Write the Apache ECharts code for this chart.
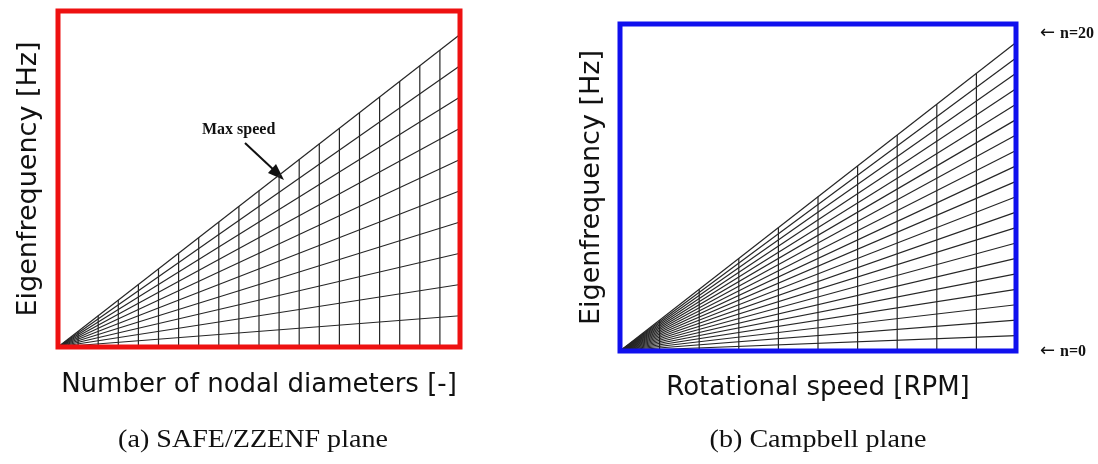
<!DOCTYPE html>
<html>
<head>
<meta charset="utf-8">
<script src="https://cdn.jsdelivr.net/npm/echarts@6/dist/echarts.min.js"></script>
<style>
  html, body { margin: 0; padding: 0; background: #fff; }
  #chart { width: 1098px; height: 464px; }
</style>
</head>
<body>
<div id="chart"></div>
<script>
// SAFE/ZZENF plane: nodal diameters on x, constant-speed lines fanning out of the origin
const ndMax = 20;
const ndTicks = [1, 2, 3, 4, 5, 6, 7, 8, 9, 10, 11, 12, 13, 14, 15, 16, 17, 18, 19];
const safeLineEnds = [1, 2, 3, 4, 5, 6, 7, 8, 9, 10];   // frequency of each line at ndMax
const safeYMax = 10.75;

// Campbell plane: engine orders n = 0..20 against rotational speed
const rpmMax = 10;
const rpmTicks = [1, 2, 3, 4, 5, 6, 7, 8, 9];
const engineOrders = [0, 1, 2, 3, 4, 5, 6, 7, 8, 9, 10, 11, 12, 13, 14, 15, 16, 17, 18, 19, 20];
const campbellYMax = 212;

const INK = '#262626';
const sansFont = 'DejaVu Sans';
const serifFont = 'Liberation Serif';

const series = [];

function seg(idx, pts) {
  series.push({
    type: 'line', xAxisIndex: idx, yAxisIndex: idx,
    data: pts, symbol: 'none', silent: true, animation: false,
    lineStyle: { color: INK, width: 1.2 }, z: 2
  });
}

// left fan
const safeTop = safeLineEnds[safeLineEnds.length - 1];
safeLineEnds.forEach(e => seg(0, [[0, 0], [ndMax, e]]));
ndTicks.forEach(k => seg(0, [[k, 0], [k, safeTop * k / ndMax]]));

// right fan (frequency = order x speed)
const nTop = engineOrders[engineOrders.length - 1];
engineOrders.forEach(n => seg(1, [[0, 0], [rpmMax, n * rpmMax]]));
rpmTicks.forEach(s => seg(1, [[s, 0], [s, nTop * s]]));

const hiddenAxis = {
  axisLine: { show: false }, axisTick: { show: false },
  axisLabel: { show: false }, splitLine: { show: false }
};
const xNameStyle = { fontFamily: sansFont, fontSize: 26, color: '#111' };
const yNameStyle = { fontFamily: sansFont, fontSize: 27, color: '#111' };
const noteFont = 'bold 16px "Liberation Serif"';

const chart = echarts.init(document.getElementById('chart'), null, { renderer: 'canvas' });
chart.setOption({
  backgroundColor: '#fff',
  animation: false,
  grid: [
    { left: 58, top: 11, width: 402, height: 336, show: true,
      borderColor: '#ee1111', borderWidth: 5, backgroundColor: 'transparent', z: 5 },
    { left: 620, top: 24, width: 396, height: 327, show: true,
      borderColor: '#1010ee', borderWidth: 5, backgroundColor: 'transparent', z: 5 }
  ],
  xAxis: [
    Object.assign({ type: 'value', gridIndex: 0, min: 0, max: ndMax,
      name: 'Number of nodal diameters [-]', nameLocation: 'middle', nameGap: 25,
      nameTextStyle: xNameStyle }, hiddenAxis),
    Object.assign({ type: 'value', gridIndex: 1, min: 0, max: rpmMax,
      name: 'Rotational speed [RPM]', nameLocation: 'middle', nameGap: 24,
      nameTextStyle: xNameStyle }, hiddenAxis)
  ],
  yAxis: [
    Object.assign({ type: 'value', gridIndex: 0, min: 0, max: safeYMax,
      name: 'Eigenfrequency [Hz]', nameLocation: 'middle', nameGap: 16,
      nameTextStyle: yNameStyle }, hiddenAxis),
    Object.assign({ type: 'value', gridIndex: 1, min: 0, max: campbellYMax,
      name: 'Eigenfrequency [Hz]', nameLocation: 'middle', nameGap: 15,
      nameTextStyle: yNameStyle }, hiddenAxis)
  ],
  series: series,
  graphic: [
    { type: 'text', left: 202, top: 122,
      style: { text: 'Max speed', font: noteFont, fill: '#111' } },
    { type: 'line', shape: { x1: 245, y1: 143, x2: 276, y2: 172 },
      style: { stroke: '#111', lineWidth: 2 } },
    { type: 'polygon', shape: { points: [[284, 180], [268, 173], [276, 164]] },
      style: { fill: '#111' } },
    { type: 'text', left: 1040, top: 24,
      style: { text: '\u2190', font: '18px "DejaVu Sans"', fill: '#111' } },
    { type: 'text', left: 1060, top: 26,
      style: { text: 'n=20', font: noteFont, fill: '#111' } },
    { type: 'text', left: 1040, top: 342,
      style: { text: '\u2190', font: '18px "DejaVu Sans"', fill: '#111' } },
    { type: 'text', left: 1060, top: 344,
      style: { text: 'n=0', font: noteFont, fill: '#111' } },
    { type: 'text', x: 253, y: 427, scaleX: 1.08,
      style: { text: '(a) SAFE/ZZENF plane', font: '26px "' + serifFont + '"', fill: '#111',
               align: 'center', verticalAlign: 'top' } },
    { type: 'text', x: 818, y: 427, scaleX: 1.08,
      style: { text: '(b) Campbell plane', font: '26px "' + serifFont + '"', fill: '#111',
               align: 'center', verticalAlign: 'top' } }
  ]
});
</script>
</body>
</html>
